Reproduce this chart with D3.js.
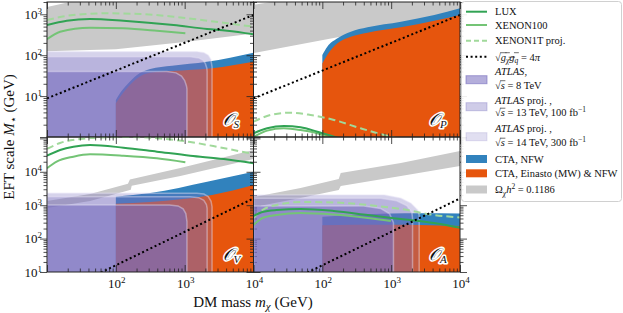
<!DOCTYPE html>
<html>
<head>
<meta charset="utf-8">
<script src="https://cdn.jsdelivr.net/npm/d3@7"></script>
<style>
body{margin:0;background:#fff}
text{font-family:"Liberation Serif","DejaVu Serif",serif;fill:#111}
</style>
</head>
<body>
<svg id="chart" width="623" height="313"></svg>
<script>
// all values are [DM mass (GeV), EFT scale M* (GeV)]

// ---- O_S ----
var luxS = [[10,548],[19.4,698],[42,768],[129,698],[690,548],[2118,437],[4140,397],[1e4,324]];
var xe100S = [[10,245],[15.5,376],[42,471],[129,455],[395,397],[1023,343]];
var xe1tS = [[10,726],[24,961],[74,1059],[226,1018],[690,875],[2118,698],[6460,548],[1e4,498]];
var relicHiS = [[10,1510],[21.6,2000],[1e4,20000]];
var relicLoS = [[10,125],[100,140],[1000,210],[1e4,340]];
var nfwS = [[100,8],[116,12],[145,19],[203,33],[316,46],[655,55],[2100,69],[1e4,115]];
var einS = [[100,6.7],[116,9.7],[145,15.5],[203,27],[316,37],[655,41],[2500,48],[1e4,69]];
var atlas8S = [[10,40],[550,40],[750,37],[900,31],[1000,24],[1060,18],[1080,15],[1080,1]];
var atlas13S = [[10,92],[1200,92],[1600,86],[1850,75],[2000,62],[2100,48],[2120,40],[2120,1]];
var atlas14S = [[10,122],[1500,122],[1900,115],[2200,100],[2400,78],[2500,52],[2500,1]];

// ---- O_P ----
var luxP = [[10,1.23],[15.8,1.63],[27.6,1.86],[48.3,1.73],[84.7,1.35],[148,1.02],[200,0.85]];
var xe100P = [[10,1.0],[15.8,1.43],[27.6,1.63],[48.3,1.48],[84.7,1.23],[118,1.0],[160,0.85]];
var xe1tP = [[10,2.37],[17.7,3.45],[34.6,3.93],[67.6,3.45],[148,2.61],[361,1.63],[789,1.12],[988,1.02],[1300,0.9]];
var relicHiP = [[10,1700],[18,2000],[1e4,20000]];
var relicLoP = [[10,113],[146,263],[1e4,980]];
var nfwP = [[100,101],[118,161],[166,259],[259,376],[453,481],[1384,659],[4227,961],[1e4,1403]];
var einP = [[100,63],[118,101],[166,195],[259,284],[453,356],[1384,481],[4227,698],[1e4,961]];

// ---- O_V ----
var luxV = [[10,30300],[15.5,45000],[24.2,56500],[42.3,63400],[129,52700],[395,40000],[1208,30300],[3700,24100],[1e4,18000]];
var xe100V = [[10,12700],[13.8,20100],[24.2,28300],[42.3,33400],[129,30300],[395,25400],[1023,19300]];
var xe1tV = [[10,48200],[15.5,72800],[30.3,95900],[59,106000],[162,110000],[442,99300],[1208,78000],[3304,53500],[1e4,34100]];
var relicHiV = [[10,1336],[42.3,2163],[150,4400],[160,5900],[865,13000],[1e4,45000]];
var relicLoV = [[10,824],[42.3,1336],[165,2900],[170,3800],[865,7480],[1e4,24200]];
var nfwV = [[100,1800],[316,2300],[2118,5058],[1e4,10070]];
var einV = [[100,1100],[316,1250],[2500,2018],[1e4,4027]];
var atlas8V = [[10,1014],[600,1014],[800,950],[950,780],[1040,560],[1080,321],[1080,10]];
var atlas13V = [[10,1800],[1200,1800],[1600,1680],[1900,1400],[2070,1050],[2120,800],[2120,10]];
var atlas14V = [[10,2270],[1500,2270],[1900,2150],[2200,1800],[2420,1300],[2500,900],[2500,10]];

// ---- O_A ----
var luxA = [[10,475],[13.5,627],[21.6,718],[48.3,771],[146,672],[457,509],[1384,386],[4178,293],[1e4,212]];
var xe100A = [[10,255],[13.5,414],[21.6,509],[48.3,585],[146,527],[457,414],[991,336]];
var xe1tA = [[10,414],[13.5,718],[21.6,1014],[48.3,1247],[146,1205],[457,1014],[1384,769],[4178,509],[1e4,428]];
var relicHiA = [[10,1762],[48.3,3273],[173,6092],[185,9210],[1384,18350],[1e4,41950]];
var relicLoA = [[10,883],[48.3,1644],[173,2852],[185,3758],[1384,7480],[1e4,14920]];
var nfwA = [[100,450],[300,520],[1000,560],[2500,571],[1e4,560]];
var einA = [[100,250],[300,260],[1000,260],[2500,255],[1e4,240]];
var atlas8A = [[10,950],[400,950],[700,800],[950,550],[1080,300],[1080,10]];
var atlas13A = [[10,1610],[700,1610],[1200,1350],[1700,950],[2000,600],[2045,400],[2045,10]];
var atlas14A = [[10,2018],[791,2018],[1384,1610],[1934,1140],[2420,718],[2553,509],[2553,10]];

// sqrt(g g) = 4 pi
var unitarityTop = [[10,8.8],[1e4,961]];
var unitarityBottom = [[10,1.59],[1e4,1592]];

var xDecades = [100, 1000, 10000];
var yDecadesTop = [10, 100, 1000];
var yDecadesBottom = [10, 100, 1000, 10000];

var panels = [
  {name:"S", col:0, row:0, lux:luxS, xe100:xe100S, xe1t:xe1tS, hi:relicHiS, lo:relicLoS, nfw:nfwS, ein:einS, atlas:[atlas14S,atlas13S,atlas8S], dots:unitarityTop},
  {name:"P", col:1, row:0, lux:luxP, xe100:xe100P, xe1t:xe1tP, hi:relicHiP, lo:relicLoP, nfw:nfwP, ein:einP, atlas:[], dots:unitarityTop},
  {name:"V", col:0, row:1, lux:luxV, xe100:xe100V, xe1t:xe1tV, hi:relicHiV, lo:relicLoV, nfw:nfwV, ein:einV, atlas:[atlas14V,atlas13V,atlas8V], dots:unitarityBottom},
  {name:"A", col:1, row:1, lux:luxA, xe100:xe100A, xe1t:xe1tA, hi:relicHiA, lo:relicLoA, nfw:nfwA, ein:einA, atlas:[atlas14A,atlas13A,atlas8A], dots:unitarityBottom}
];

var C = {lux:"#31a354", xe100:"#74c476", xe1t:"#a1d99b", nfw:"#3182bd", ein:"#e6550d", relic:"#c9c9c9", atlas:"rgb(118,108,190)"};
var atlasAlpha = [0.3, 0.3, 0.6];

var padL = 47, colW = 206.5, padT = 2, rowH = 135;
var svg = d3.select("#chart");

panels.forEach(function(p){
  var x0 = padL + p.col*colW, y0 = padT + p.row*rowH;
  var x = d3.scaleLog().domain([10,1e4]).range([x0, x0+colW]);
  var y = p.row==0 ? d3.scaleLog().domain([1,2000]).range([y0+rowH, y0])
                   : d3.scaleLog().domain([10,1.1e5]).range([y0+rowH, y0]);
  var yb = y0+rowH;

  svg.append("clipPath").attr("id","clip"+p.name)
    .append("rect").attr("x",x0).attr("y",y0).attr("width",colW).attr("height",rowH);
  var g = svg.append("g").attr("clip-path","url(#clip"+p.name+")");

  var line = d3.line().x(function(d){return x(d[0]);}).y(function(d){return y(d[1]);});
  var area = d3.area().x(function(d){return x(d[0]);}).y0(yb+5).y1(function(d){return y(d[1]);});

  // relic density band
  g.append("path").attr("d", line(p.hi.concat(p.lo.slice().reverse()))+"Z").attr("fill",C.relic);

  // CTA
  g.append("path").attr("d", area.curve(d3.curveMonotoneX)(p.nfw)).attr("fill",C.nfw);
  g.append("path").attr("d", area.curve(d3.curveMonotoneX)(p.ein)).attr("fill",C.ein);

  // ATLAS
  p.atlas.forEach(function(a,i){
    g.append("path").attr("d", area.curve(d3.curveLinear)(a))
      .attr("fill",C.atlas).attr("fill-opacity",atlasAlpha[i])
      .attr("stroke","#e4e1f3").attr("stroke-opacity",0.45).attr("stroke-width",1.5);
  });

  // direct detection
  var curve = line.curve(d3.curveMonotoneX);
  g.append("path").attr("d",curve(p.xe1t)).attr("fill","none").attr("stroke",C.xe1t).attr("stroke-width",2).attr("stroke-dasharray","7,4");
  g.append("path").attr("d",curve(p.xe100)).attr("fill","none").attr("stroke",C.xe100).attr("stroke-width",2);
  g.append("path").attr("d",curve(p.lux)).attr("fill","none").attr("stroke",C.lux).attr("stroke-width",2);

  g.append("path").attr("d",line.curve(d3.curveLinear)(p.dots)).attr("fill","none")
    .attr("stroke","#000").attr("stroke-width",2).attr("stroke-dasharray","2,2.6");

  // operator label
  var lab = svg.append("text").attr("x",x0+colW-31).attr("y",yb-12)
    .attr("font-size",17).attr("stroke","#fff").attr("stroke-width",3).attr("paint-order","stroke")
    .attr("stroke-linejoin","round");
  lab.append("tspan").attr("font-style","italic").text("\uD835\uDCAA");
  lab.append("tspan").attr("font-size",11).attr("font-style","italic").attr("dy",3).text(p.name);

  // frame + inward ticks
  var xt = x.ticks(), yt = y.ticks();
  var isDec = function(v){ return Math.abs(Math.log10(v)-Math.round(Math.log10(v)))<1e-6; };
  var xMaj = xt.filter(isDec), xMin = xt.filter(function(v){return !isDec(v);});
  var yMaj = yt.filter(isDec), yMin = yt.filter(function(v){return !isDec(v);});
  var axes = [
    [d3.axisBottom, x, "translate(0,"+yb+")"],
    [d3.axisTop, x, "translate(0,"+y0+")"],
    [d3.axisRight, y, "translate("+x0+",0)"],
    [d3.axisLeft, y, "translate("+(x0+colW)+",0)"]
  ];
  axes.forEach(function(a){
    var isX = a[1]===x;
    [[isX?xMaj:yMaj,7],[isX?xMin:yMin,3.5]].forEach(function(t){
      var ag = svg.append("g").attr("transform",a[2])
        .call(a[0](a[1]).tickValues(t[0]).tickSize(-t[1]).tickSizeOuter(0).tickFormat(""));
      ag.select(".domain").remove();
      ag.selectAll("line").attr("stroke","#222").attr("stroke-width",0.8);
    });
  });
  svg.append("rect").attr("x",x0).attr("y",y0).attr("width",colW).attr("height",rowH)
    .attr("fill","none").attr("stroke","#222").attr("stroke-width",1);

  // tick labels
  function pow(sel, v){
    sel.append("tspan").text("10");
    sel.append("tspan").attr("dy",-5).attr("font-size",9).text(Math.round(Math.log10(v)));
  }
  if (p.row==1){
    xDecades.forEach(function(v){
      svg.append("text").attr("x",x(v)+1).attr("y",288).attr("text-anchor","middle").attr("font-size",13).call(pow,v);
    });
  }
  if (p.col==0){
    (p.row==0?yDecadesTop:yDecadesBottom).forEach(function(v){
      svg.append("text").attr("x",42).attr("y",y(v)+4.5).attr("text-anchor","end").attr("font-size",13).call(pow,v);
    });
  }
});

// axis titles
var xTitle = svg.append("text").attr("x",253).attr("y",307).attr("text-anchor","middle").attr("font-size",15);
xTitle.append("tspan").text("DM mass ");
xTitle.append("tspan").attr("font-style","italic").text("m");
xTitle.append("tspan").attr("font-size",11).attr("font-style","italic").attr("dy",3).text("\u03c7");
xTitle.append("tspan").attr("dy",-3).text(" (GeV)");

var yTitle = svg.append("text").attr("transform","translate(14,137) rotate(-90)").attr("text-anchor","middle").attr("font-size",15);
yTitle.append("tspan").text("EFT scale ");
yTitle.append("tspan").attr("font-style","italic").text("M");
yTitle.append("tspan").attr("font-size",11).attr("dy",3).text("\u22c6");
yTitle.append("tspan").attr("dy",-3).text(" (GeV)");

// ---- legend ----
var lg = svg.append("g");
lg.append("rect").attr("x",461.5).attr("y",1.5).attr("width",160).attr("height",200).attr("rx",3)
  .attr("fill","#fff").attr("fill-opacity",0.9).attr("stroke","#d0d0d0");

function rich(yy, segs){
  var t = lg.append("text").attr("x",495).attr("y",yy).attr("font-size",10.5);
  var shift = 0, n = 0, overs = [];
  segs.forEach(function(s){
    var target = s.sub ? 2.5 : (s.sup ? -4 : 0);
    var ts = t.append("tspan").attr("dy", target-shift).text(s.t);
    shift = target;
    if (s.sub || s.sup) ts.attr("font-size",7.5);
    if (s.i) ts.attr("font-style","italic");
    if (s.over) overs.push([n, n+s.t.length-1]);
    n += s.t.length;
  });
  var node = t.node();
  overs.forEach(function(o){
    var a = node.getExtentOfChar(o[0]-1), b = node.getExtentOfChar(o[1]);
    lg.append("line").attr("x1",a.x+a.width-0.6).attr("x2",b.x+b.width+0.5)
      .attr("y1",a.y+1.2).attr("y2",a.y+1.2).attr("stroke","#111").attr("stroke-width",0.6);
  });
  return t;
}

var lx0 = 466, lx1 = 487;
function legLine(yy, color, dash){
  lg.append("line").attr("x1",lx0).attr("x2",lx1).attr("y1",yy).attr("y2",yy)
    .attr("stroke",color).attr("stroke-width",2).attr("stroke-dasharray",dash||null);
}
function legBox(yy, color, alpha, edge){
  lg.append("rect").attr("x",lx0).attr("y",yy-4).attr("width",lx1-lx0).attr("height",8)
    .attr("fill",color).attr("fill-opacity",alpha==null?1:alpha).attr("stroke",edge||"none").attr("stroke-width",1);
}

legLine(11.7, C.lux); rich(15.2,[{t:"LUX"}]);
legLine(25, C.xe100); rich(28.5,[{t:"XENON100"}]);
legLine(40.7, C.xe1t, "5,3"); rich(44.2,[{t:"XENON1T proj."}]);
legLine(56.7, "#000", "2,2.6");
rich(60.5,[{t:"\u221a"},{t:"g",i:true,over:true},{t:"\u03c7",sub:true,i:true,over:true},{t:"g",i:true,over:true},{t:"q",sub:true,i:true,over:true},{t:" = 4"},{t:"\u03c0",i:true}]);

legBox(79.7, C.atlas, 0.55, "rgba(118,108,190,0.6)");
rich(75,[{t:"ATLAS",i:true},{t:","}]);
rich(88.5,[{t:"\u221a"},{t:"s",i:true,over:true},{t:" = 8 TeV"}]);

legBox(106.7, C.atlas, 0.35, "rgba(118,108,190,0.35)");
rich(103.5,[{t:"ATLAS",i:true},{t:" proj. ,"}]);
rich(116,[{t:"\u221a"},{t:"s",i:true,over:true},{t:" = 13 TeV, 100 fb"},{t:"\u22121",sup:true}]);

legBox(136.7, C.atlas, 0.22, "rgba(118,108,190,0.2)");
rich(131.8,[{t:"ATLAS",i:true},{t:" proj. ,"}]);
rich(146,[{t:"\u221a"},{t:"s",i:true,over:true},{t:" = 14 TeV, 300 fb"},{t:"\u22121",sup:true}]);

legBox(159, C.nfw); rich(162.5,[{t:"CTA, NFW"}]);
legBox(173.3, C.ein); rich(176.8,[{t:"CTA, Einasto (MW) & NFW"}]);
legBox(189.5, C.relic); rich(193,[{t:"\u03a9"},{t:"\u03c7",sub:true,i:true},{t:"h",i:true},{t:"2",sup:true},{t:" = 0.1186"}]);
</script>
</body>
</html>
